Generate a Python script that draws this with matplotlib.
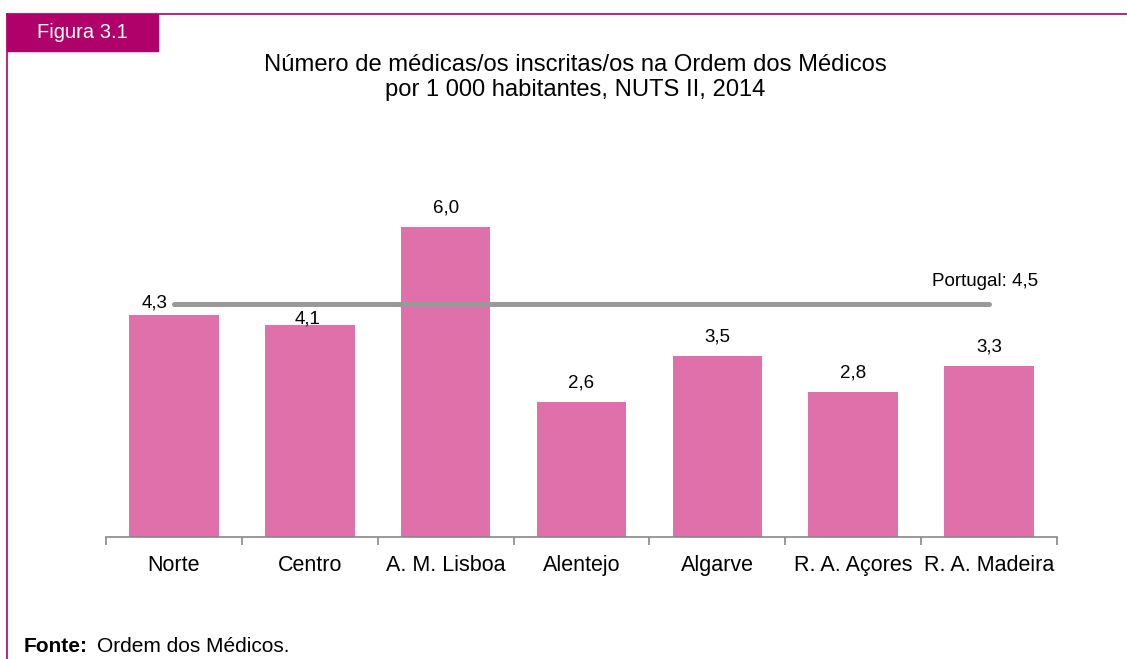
import matplotlib
matplotlib.use("Agg")
import matplotlib.pyplot as plt
import numpy as np
from matplotlib.patches import Rectangle
from matplotlib.lines import Line2D

plt.rcParams['font.family'] = ['Liberation Sans', 'DejaVu Sans']

categories = ["Norte", "Centro", "A. M. Lisboa", "Alentejo", "Algarve", "R. A. Açores", "R. A. Madeira"]
values = [4.3, 4.1, 6.0, 2.6, 3.5, 2.8, 3.3]
value_labels = ["4,3", "4,1", "6,0", "2,6", "3,5", "2,8", "3,3"]
portugal = 4.5
portugal_label = "Portugal: 4,5"
title = "Número de médicas/os inscritas/os na Ordem dos Médicos\npor 1 000 habitantes, NUTS II, 2014"
figure_tag = "Figura 3.1"

W, H = 1127, 659
fig = plt.figure(figsize=(W / 100, H / 100), dpi=100)

def fx(px):
    return px / W

def fy(py):
    return 1 - py / H

magenta = "#B0006A"
# frame lines
fig.add_artist(Line2D([fx(7), 1], [fy(14), fy(14)], color=magenta, lw=1.2))
fig.add_artist(Line2D([fx(7), fx(7)], [fy(14), 0], color=magenta, lw=1.2))
fig.add_artist(Rectangle((fx(7), fy(51)), fx(158) - fx(7), fy(14) - fy(51),
                         color=magenta, transform=fig.transFigure))
fig.text(fx(82), fy(33), figure_tag, color="white", fontsize=14.5, ha="center", va="center")

fig.text(fx(575), fy(77.5), title, ha="center", va="center", fontsize=17.1, linespacing=1.2)

ax = fig.add_axes([fx(106), fy(537), fx(1057) - fx(106), fy(149) - fy(537)])
x = np.arange(len(categories))
ax.bar(x, values, width=0.66, color="#E070A9", zorder=2)
ax.plot([x[0], x[-1]], [portugal, portugal], color="#999999", lw=3.6, solid_capstyle="round", zorder=3)
ax.set_xlim(-0.5, len(categories) - 0.5)
ax.set_ylim(0, 7.5)

fs = 13.5
for i, (v, lab) in enumerate(zip(values, value_labels)):
    if i == 0:
        off = (-14, 5)
    elif i == 1:
        off = (-1.5, 1)
    else:
        off = (0, 10.5)
    ax.annotate(lab, (x[i], v), xytext=off, textcoords="offset points",
                ha="center", va="baseline", fontsize=fs)
ax.annotate(portugal_label, (x[-1], portugal), xytext=(-3, 13), textcoords="offset points",
            ha="center", va="baseline", fontsize=fs)

for s in ["top", "right", "left"]:
    ax.spines[s].set_visible(False)
ax.spines["bottom"].set_color("#888888")
ax.spines["bottom"].set_linewidth(1.2)
ax.set_yticks([])
ax.set_xticks(x)
ax.set_xticklabels(categories, fontsize=15.5)
ax.tick_params(axis="x", length=0, pad=13)
ax.set_xticks(np.arange(len(categories) + 1) - 0.5, minor=True)
ax.tick_params(axis="x", which="minor", length=6, width=1.2, color="#888888", direction="out")

fig.text(fx(24), fy(646), "Fonte:", fontsize=15, fontweight="bold", va="center", ha="left")
fig.text(fx(97), fy(646), "Ordem dos Médicos.", fontsize=15, va="center", ha="left")

fig.savefig("out.png", dpi=100)
